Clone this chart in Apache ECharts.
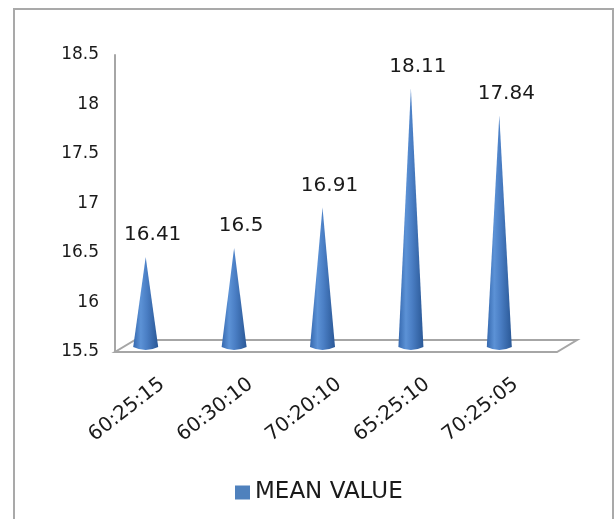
<!DOCTYPE html>
<html>
<head>
<meta charset="utf-8">
<title>Mean value by ratio</title>
<script src="https://cdn.jsdelivr.net/npm/echarts@6/dist/echarts.min.js"></script>
<style>
  html, body { margin: 0; padding: 0; background: #fff; }
  #chart { width: 616px; height: 519px; }
</style>
</head>
<body>
<div id="chart"></div>
<script>
// Ratios on the category axis and the mean value measured for each
const categories = ['60:25:15', '60:30:10', '70:20:10', '65:25:10', '70:25:05'];
const meanValues = [16.41, 16.5, 16.91, 18.11, 17.84];
const seriesName = 'MEAN VALUE';

// Value axis range and step
const yMin = 15.5;
const yMax = 18.5;
const yStep = 0.5;

const FONT = 'DejaVu Sans';
const TEXT = '#1a1a1a';
const coneFill = {
  type: 'linear', x: 0, y: 0, x2: 1, y2: 0,
  colorStops: [
    { offset: 0, color: '#3568AE' },
    { offset: 0.3, color: '#5C92D6' },
    { offset: 0.55, color: '#4A7EC4' },
    { offset: 1, color: '#2A5896' }
  ]
};

// 3D-ish floor slab under the cones
function renderFloor(params, api) {
  const cs = params.coordSys;
  const fx = cs.x - 3, fy = cs.y + cs.height;
  const dx = 20, dy = -12;
  return {
    type: 'polygon',
    shape: {
      points: [
        [fx, fy], [fx + cs.width, fy],
        [fx + cs.width + dx, fy + dy], [fx + dx, fy + dy]
      ]
    },
    style: { fill: '#ffffff', stroke: '#A6A6A6', lineWidth: 2 },
    silent: true
  };
}

// Each value drawn as a cone standing on the floor, with its value above
function renderCone(params, api) {
  const idx = api.value(0);
  const v = api.value(1);
  const top = api.coord([idx, v]);
  const bottom = api.coord([idx, yMin]);
  const cx = top[0] - 16.5;
  const tipY = top[1] - 5;
  const baseY = bottom[1] - 5;
  const hw = 12.5;
  const d = 'M' + (cx - hw) + ',' + baseY +
            ' L' + cx + ',' + tipY +
            ' L' + (cx + hw) + ',' + baseY +
            ' Q' + cx + ',' + (baseY + 6) + ' ' + (cx - hw) + ',' + baseY + ' Z';
  return {
    type: 'group',
    children: [
      { type: 'path', shape: { pathData: d }, style: { fill: coneFill } },
      {
        type: 'text',
        x: cx + 7,
        y: tipY - 22,
        style: {
          text: String(meanValues[params.dataIndex]),
          fontFamily: FONT, fontSize: 20, fill: TEXT,
          align: 'center', verticalAlign: 'middle'
        }
      }
    ]
  };
}

const chart = echarts.init(document.getElementById('chart'), null, { renderer: 'canvas' });
chart.setOption({
  animation: false,
  backgroundColor: '#ffffff',
  color: ['#4F81BD'],
  graphic: [{
    type: 'rect',
    shape: { x: 14, y: 9, width: 599, height: 520 },
    style: { fill: 'none', stroke: '#A9A9A9', lineWidth: 2 },
    silent: true, z: -1
  }],
  grid: { left: 118, right: 56, top: 55, bottom: 167 },
  legend: {
    data: [seriesName],
    left: 230, top: 476,
    icon: 'rect', itemWidth: 15, itemHeight: 14,
    textStyle: { fontFamily: FONT, fontSize: 23, color: TEXT }
  },
  xAxis: {
    type: 'category',
    data: categories,
    axisLine: { show: false },
    axisTick: { show: false },
    axisLabel: {
      rotate: 38, margin: 30, interval: 0,
      fontFamily: FONT, fontSize: 20, color: TEXT
    }
  },
  yAxis: {
    type: 'value',
    min: yMin, max: yMax, interval: yStep,
    offset: 3,
    axisLine: { show: true, lineStyle: { color: '#A6A6A6', width: 2 } },
    axisTick: { show: false },
    splitLine: { show: false },
    axisLabel: { margin: 16, fontFamily: FONT, fontSize: 17, color: TEXT }
  },
  series: [
    {
      name: 'floor',
      type: 'custom',
      renderItem: renderFloor,
      data: [[0, yMin]],
      z: 1, silent: true
    },
    {
      name: seriesName,
      type: 'custom',
      renderItem: renderCone,
      itemStyle: { color: '#4F81BD' },
      encode: { x: 0, y: 1 },
      data: meanValues.map(function (v, i) { return [i, v]; }),
      z: 3
    }
  ]
});
</script>
</body>
</html>
